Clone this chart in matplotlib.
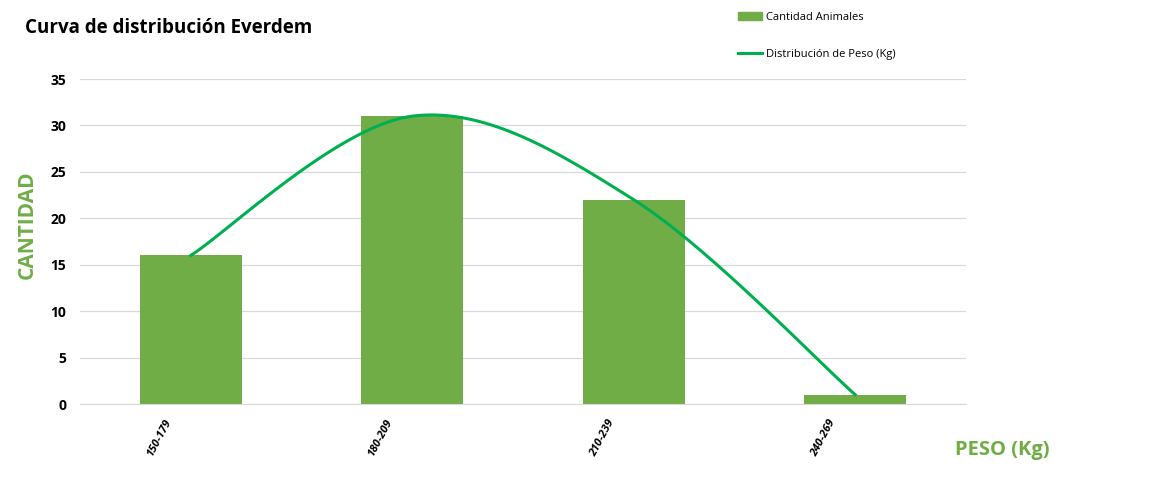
"""Curva de distribucion Everdem: bars + smoothed distribution line."""

import numpy as np
import matplotlib.pyplot as plt
import matplotlib.transforms as mtransforms
from matplotlib.patches import Patch
from matplotlib.lines import Line2D

categories = ["150-179", "180-209", "210-239", "240-269"]
cantidad = [16, 31, 22, 1]
distribucion = [16, 31, 22, 1]

BAR = "#70AD47"
LINE = "#00B050"

plt.rcParams["font.family"] = ["Open Sans", "DejaVu Sans"]


def smooth(xs, ys, n=40):
    # Catmull-Rom style bezier, like a spreadsheet "smoothed line"
    pts = np.column_stack([xs, ys]).astype(float)
    pad = np.vstack([pts[0], pts, pts[-1]])
    out = []
    for i in range(len(pts) - 1):
        p0, p1, p2, p3 = pad[i], pad[i + 1], pad[i + 2], pad[i + 3]
        c1 = p1 + (p2 - p0) / 6
        c2 = p2 - (p3 - p1) / 6
        t = np.linspace(0, 1, n)[:, None]
        seg = ((1 - t) ** 3) * p1 + 3 * t * (1 - t) ** 2 * c1 + 3 * t ** 2 * (1 - t) * c2 + t ** 3 * p2
        out.append(seg if i == 0 else seg[1:])
    seg = np.vstack(out)
    return seg[:, 0], seg[:, 1]


fig = plt.figure(figsize=(11.62, 4.97), dpi=100)
ax = fig.add_axes([80 / 1162, 1 - 404 / 497, 886 / 1162, 325 / 497])

x = np.arange(len(categories))
ax.bar(x, cantidad, width=0.46, color=BAR, zorder=2)
sx, sy = smooth(x, distribucion)
ax.plot(sx, sy, color=LINE, lw=2.2, zorder=3)

ax.set_xlim(-0.5, len(categories) - 0.5)
ax.set_ylim(0, 35)
ax.set_yticks(range(0, 36, 5))
ax.set_xticks(x)
ax.set_xticklabels([])
# category labels sit left of the tick centre, like the spreadsheet export
shift = mtransforms.ScaledTranslation(-0.27, -0.14, fig.dpi_scale_trans)
for xi, cat in zip(x, categories):
    ax.text(xi, 0, cat, transform=ax.get_xaxis_transform() + shift,
            rotation=62, ha="right", va="top", rotation_mode="anchor",
            fontsize=8, fontweight="bold", fontstyle="italic")
for lab in ax.get_yticklabels():
    lab.set_fontweight("bold")
    lab.set_fontsize(10)
ax.tick_params(length=0, pad=10)
ax.grid(axis="y", color="#D9D9D9", lw=0.9, zorder=0)
for s in ["top", "right", "left"]:
    ax.spines[s].set_visible(False)
ax.spines["bottom"].set_color("#D9D9D9")

fig.text(25 / 1162, 1 - 28 / 497, "Curva de distribución Everdem",
         fontsize=13.5, fontweight="bold", va="center")
fig.text(27 / 1162, 1 - 225 / 497, "CANTIDAD", color=BAR, fontsize=15,
         fontweight="bold", rotation=90, ha="center", va="center")
fig.text(1002 / 1162, 1 - 450 / 497, "PESO (Kg)", color=BAR, fontsize=14.5,
         fontweight="bold", ha="center", va="center")

handles = [Patch(color=BAR, label="Cantidad Animales"),
           Line2D([], [], color=LINE, lw=2.2, label="Distribución de Peso (Kg)")]
fig.legend(handles=handles, loc="upper left", bbox_to_anchor=(728 / 1162, 1 - 2 / 497),
           frameon=False, fontsize=8, labelspacing=2.35, handlelength=2.2,
           handletextpad=0.3)

fig.savefig("out.png", dpi=100)
